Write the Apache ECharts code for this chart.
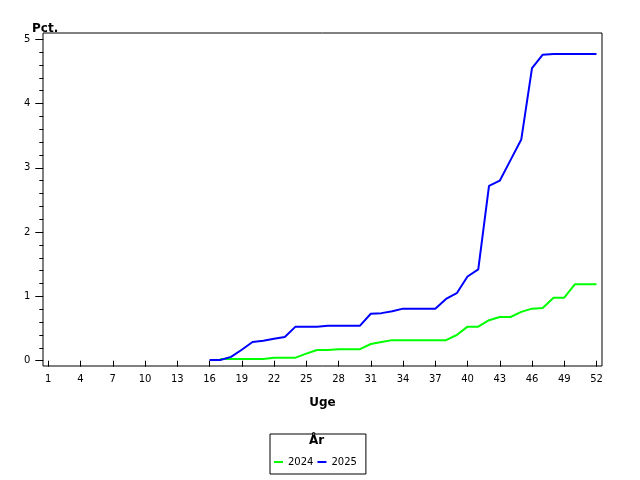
<!DOCTYPE html>
<html>
<head>
<meta charset="utf-8">
<script src="https://cdn.jsdelivr.net/npm/echarts@6/dist/echarts.min.js"></script>
<style>html,body{margin:0;padding:0;background:#fff}#c{width:640px;height:480px}</style>
</head>
<body>
<div id="c"></div>
<script>
const weeks2024 = [17,18,19,20,21,22,23,24,25,26,27,28,29,30,31,32,33,34,35,36,37,38,39,40,41,42,43,44,45,46,47,48,49,50,51,52];
const values2024 = [0.027,0.027,0.027,0.027,0.027,0.047,0.047,0.047,0.11,0.167,0.167,0.18,0.18,0.18,0.26,0.29,0.32,0.32,0.32,0.32,0.32,0.32,0.40,0.53,0.53,0.63,0.68,0.68,0.76,0.81,0.82,0.98,0.98,1.19,1.19,1.19];
const weeks2025 = [16,17,18,19,20,21,22,23,24,25,26,27,28,29,30,31,32,33,34,35,36,37,38,39,40,41,42,43,44,45,46,47,48,49,50,51,52];
const values2025 = [0.01,0.01,0.06,0.17,0.29,0.31,0.34,0.37,0.53,0.53,0.53,0.545,0.545,0.545,0.545,0.73,0.74,0.77,0.81,0.81,0.81,0.81,0.96,1.05,1.31,1.42,2.72,2.80,3.12,3.44,4.55,4.76,4.77,4.77,4.77,4.77,4.77];
const seriesNames = ['2024','2025'];
const xTickStart = 1, xTickEnd = 52, xTickStep = 3;
const yTickMin = 0, yTickMax = 5, yTickStep = 1;

const font = 'DejaVu Sans';
const chart = echarts.init(document.getElementById('c'));
chart.setOption({
  animation: false,
  backgroundColor: '#fff',
  title: {text: 'Pct.', left: 27, top: 18, textStyle: {fontFamily: font, fontSize: 12, fontWeight: 'bold', color: '#000'}},
  grid: [
    {left: 43, right: 38, top: 33, bottom: 114, show: true, borderColor: '#000', borderWidth: 1, backgroundColor: 'transparent'},
    {left: 48.3, right: 43.5, top: 39.3, bottom: 119.3}
  ],
  xAxis: [
    {gridIndex: 0, type: 'value', show: false, min: 0, max: 1},
    {gridIndex: 1, type: 'value', min: xTickStart, max: xTickEnd, interval: xTickStep, offset: 5.7,
     name: 'Uge', nameLocation: 'middle', nameGap: 30,
     nameTextStyle: {fontFamily: font, fontSize: 12, fontWeight: 'bold', color: '#000'},
     axisLine: {show: false}, axisTick: {show: true, length: 6, lineStyle: {color: '#000'}},
     axisLabel: {fontFamily: font, fontSize: 10, color: '#000', margin: 8}, splitLine: {show: false}}
  ],
  yAxis: [
    {gridIndex: 0, type: 'value', show: false, min: 0, max: 1},
    {gridIndex: 1, type: 'value', min: yTickMin, max: yTickMax, interval: yTickStep, offset: 5,
     axisLine: {show: false}, axisTick: {show: true, length: 8, lineStyle: {color: '#000'}},
     minorTick: {show: true, splitNumber: 5, length: 4, lineStyle: {color: '#000'}},
     axisLabel: {fontFamily: font, fontSize: 10, color: '#000', margin: 13}, splitLine: {show: false}}
  ],
  legend: {
    left: 270, top: 434, orient: 'horizontal',
    borderColor: '#000', borderWidth: 1, padding: [23, 9, 7, 4], itemGap: 4,
    itemWidth: 9, itemHeight: 2, icon: 'rect',
    textStyle: {fontFamily: font, fontSize: 10, color: '#000'},
    data: seriesNames
  },
  graphic: [{type: 'text', left: 309, top: 435, style: {text: 'År', font: 'bold 12px "DejaVu Sans"', fill: '#000'}}],
  series: [
    {name: seriesNames[0], type: 'line', xAxisIndex: 1, yAxisIndex: 1, showSymbol: false, symbol: 'none',
     color: '#00ff00', lineStyle: {width: 2, color: '#00ff00'},
     data: weeks2024.map((w, i) => [w, values2024[i]])},
    {name: seriesNames[1], type: 'line', xAxisIndex: 1, yAxisIndex: 1, showSymbol: false, symbol: 'none',
     color: '#0000ff', lineStyle: {width: 2, color: '#0000ff'},
     data: weeks2025.map((w, i) => [w, values2025[i]])}
  ]
});
</script>
</body>
</html>
